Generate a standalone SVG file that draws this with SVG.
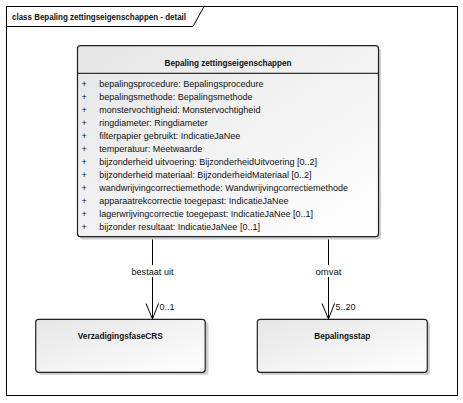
<svg xmlns="http://www.w3.org/2000/svg" width="463" height="403" viewBox="0 0 463 403">
<defs>
<linearGradient id="g" x1="0" y1="0" x2="1" y2="1">
<stop offset="0" stop-color="#e6e6e6"/>
<stop offset="1" stop-color="#ffffff"/>
</linearGradient>
<style>
text{font-family:"Liberation Sans",Arial,sans-serif;font-size:9px;fill:#111}
.b{font-weight:bold}
.box{fill:url(#g);stroke:#222;stroke-width:1.2}
.sh{fill:#cfcfcf}
.ln{stroke:#000;stroke-width:1;fill:none}
</style>
</defs>
<rect width="463" height="403" fill="#fff"/>
<g id="frame">
<rect x="6.5" y="6.5" width="451" height="389" fill="none" stroke="#000"/>
<path d="M6.5 26.5 H193 L204 6.5" fill="none" stroke="#000"/>
<text class="b" x="12" y="19.5" textLength="174" lengthAdjust="spacingAndGlyphs">class Bepaling zettingseigenschappen - detail</text>
</g>
<g id="connectors">
<line class="ln" x1="152.5" y1="237" x2="152.5" y2="319"/>
<polyline class="ln" points="146,303.5 152.5,319 158.5,303.5"/>
<rect x="129" y="265" width="47" height="12" fill="#fff"/>
<text x="152.5" y="274.5" text-anchor="middle" textLength="42" lengthAdjust="spacingAndGlyphs">bestaat uit</text>
<text x="159.5" y="310">0..1</text>
<line class="ln" x1="328.5" y1="237" x2="328.5" y2="319"/>
<polyline class="ln" points="322,303.5 328.5,319 334.5,303.5"/>
<rect x="312" y="265" width="32" height="12" fill="#fff"/>
<text x="328.5" y="274.5" text-anchor="middle" textLength="26" lengthAdjust="spacingAndGlyphs">omvat</text>
<text x="335.5" y="310">5..20</text>
</g>
<g id="bepaling">
<rect class="sh" x="80" y="48.5" width="301" height="191" rx="3"/>
<rect class="box" x="77.5" y="45.7" width="301" height="191" rx="3"/>
<line class="ln" x1="77.5" y1="73.3" x2="378.5" y2="73.3"/>
<text class="b" x="228" y="66" text-anchor="middle" textLength="127" lengthAdjust="spacingAndGlyphs">Bepaling zettingseigenschappen</text>
<g>
<text x="81.5" y="86.5">+</text><text x="99.3" y="86.5">bepalingsprocedure: Bepalingsprocedure</text>
<text x="81.5" y="99.5">+</text><text x="99.3" y="99.5">bepalingsmethode: Bepalingsmethode</text>
<text x="81.5" y="112.6">+</text><text x="99.3" y="112.6">monstervochtigheid: Monstervochtigheid</text>
<text x="81.5" y="125.6">+</text><text x="99.3" y="125.6">ringdiameter: Ringdiameter</text>
<text x="81.5" y="138.7">+</text><text x="99.3" y="138.7">filterpapier gebruikt: IndicatieJaNee</text>
<text x="81.5" y="151.7">+</text><text x="99.3" y="151.7">temperatuur: Meetwaarde</text>
<text x="81.5" y="164.7">+</text><text x="99.3" y="164.7">bijzonderheid uitvoering: BijzonderheidUitvoering [0..2]</text>
<text x="81.5" y="177.8">+</text><text x="99.3" y="177.8">bijzonderheid materiaal: BijzonderheidMateriaal [0..2]</text>
<text x="81.5" y="190.8">+</text><text x="99.3" y="190.8">wandwrijvingcorrectiemethode: Wandwrijvingcorrectiemethode</text>
<text x="81.5" y="203.9">+</text><text x="99.3" y="203.9">apparaatrekcorrectie toegepast: IndicatieJaNee</text>
<text x="81.5" y="216.9">+</text><text x="99.3" y="216.9">lagerwrijvingcorrectie toegepast: IndicatieJaNee [0..1]</text>
<text x="81.5" y="229.9">+</text><text x="99.3" y="229.9">bijzonder resultaat: IndicatieJaNee [0..1]</text>
</g>
</g>
<g id="verzadigingsfase">
<rect class="sh" x="38.5" y="322" width="170" height="53" rx="3"/>
<rect class="box" x="35.7" y="319.3" width="169.5" height="53" rx="3"/>
<text class="b" x="120.3" y="339" text-anchor="middle" textLength="85" lengthAdjust="spacingAndGlyphs">VerzadigingsfaseCRS</text>
</g>
<g id="bepalingsstap">
<rect class="sh" x="260" y="322" width="170" height="53" rx="3"/>
<rect class="box" x="257.3" y="319.3" width="170" height="53" rx="3"/>
<text class="b" x="342.3" y="339" text-anchor="middle" textLength="56" lengthAdjust="spacingAndGlyphs">Bepalingsstap</text>
</g>
</svg>
